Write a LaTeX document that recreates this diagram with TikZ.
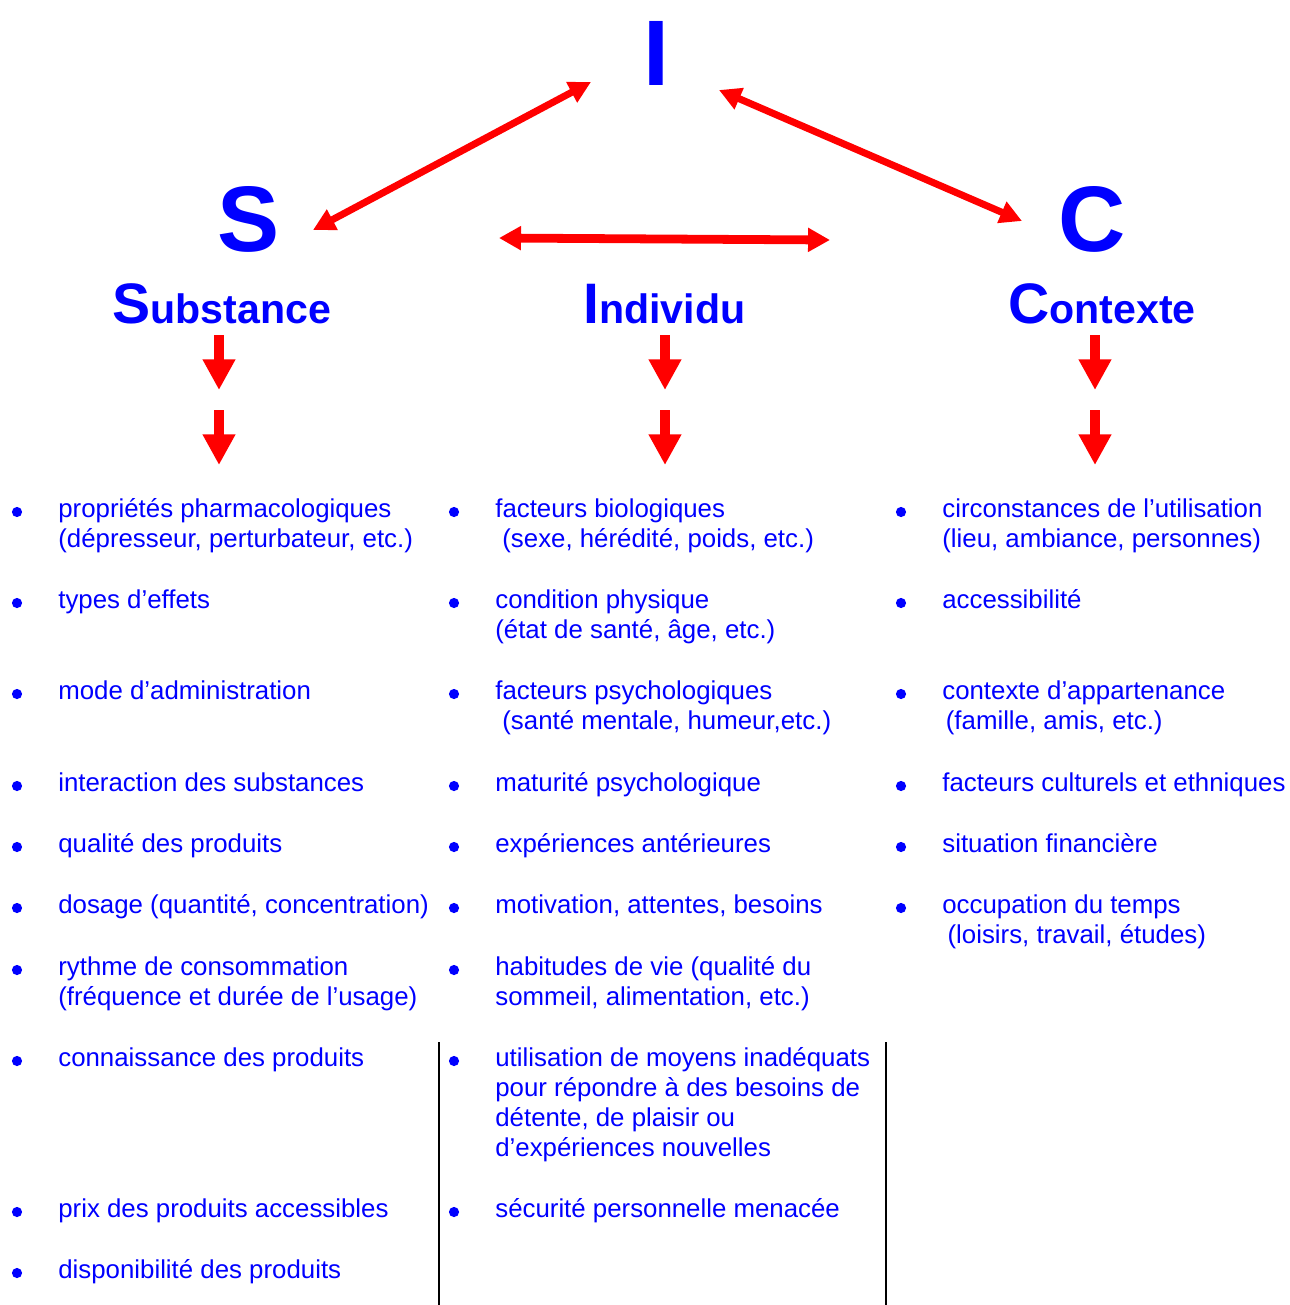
\documentclass[tikz,border=0pt]{standalone}
\usepackage{fontspec}
\setmainfont{Liberation Sans}
\usetikzlibrary{arrows.meta}

\tikzset{
    grande/.style={text=blue, font=\fontsize{53}{53}\selectfont\bfseries, inner sep=0pt, anchor=base},
    titre/.style={text=blue, font=\fontsize{23.4}{24}\selectfont\bfseries, inner sep=0pt, anchor=base west},
    texte/.style={text=blue, font=\fontsize{14.7}{17.07}\selectfont, inner sep=0pt, anchor=base west, align=left},
    lien/.style={draw=red, line width=4pt, {Triangle[length=12.5pt, width=12.5pt]}-{Triangle[length=12.5pt, width=12.5pt]}},
    lienlarge/.style={draw=red, line width=5pt, {Triangle[length=12.5pt, width=13pt]}-{Triangle[length=12.5pt, width=13pt]}},
    flechebas/.style={draw=red, line width=5.7pt, -{Triangle[length=17.5pt, width=17.6pt]}},
    puce/.style={fill=blue},
    separation/.style={draw=black, line width=1.1pt}
}
\newcommand{\initiale}[1]{{\fontsize{32.5}{33}\selectfont #1}}

\begin{document}
\begin{tikzpicture}[x=0.02cm, y=-0.02cm]
    \useasboundingbox (0,0) rectangle (1289,1305);

    % Les trois lettres
    \node[grande] (lettreI) at (656,85) {I};
    \node[grande] (lettreS) at (249,251) {S};
    \node[grande] (lettreC) at (1092,251) {C};

    % Fleches entre les lettres
    \coordinate (si-s) at (313,230);
    \coordinate (si-i) at (591,82);
    \coordinate (ic-i) at (719,90);
    \coordinate (ic-c) at (1022,221);
    \coordinate (sc-s) at (499,238);
    \coordinate (sc-c) at (830,240);
    \draw[lien] (si-s) -- (si-i);
    \draw[lien] (ic-i) -- (ic-c);
    \draw[lienlarge] (sc-s) -- (sc-c);

    % Titres
    \node[titre] (substance) at (112,323) {\initiale{S}ubstance};
    \node[titre] (individu) at (583,323) {\initiale{I}ndividu};
    \node[titre] (contexte) at (1008,323) {\initiale{C}ontexte};

    % Fleches vers le bas
    \coordinate (s-a) at (219,335);
    \coordinate (s-b) at (219,390);
    \coordinate (s-c) at (219,410);
    \coordinate (s-d) at (219,465);
    \coordinate (i-a) at (665,335);
    \coordinate (i-b) at (665,390);
    \coordinate (i-c) at (665,410);
    \coordinate (i-d) at (665,465);
    \coordinate (c-a) at (1095,335);
    \coordinate (c-b) at (1095,390);
    \coordinate (c-c) at (1095,410);
    \coordinate (c-d) at (1095,465);
    \draw[flechebas] (s-a) -- (s-b);
    \draw[flechebas] (s-c) -- (s-d);
    \draw[flechebas] (i-a) -- (i-b);
    \draw[flechebas] (i-c) -- (i-d);
    \draw[flechebas] (c-a) -- (c-b);
    \draw[flechebas] (c-c) -- (c-d);

    % Puces
    \foreach \y in {512,603,694,786,847,908,970,1061,1212,1273}
        \fill[puce] (17,\y) circle (2.9pt);
    \foreach \y in {512,603,694,786,847,908,970,1061,1212}
        \fill[puce] (454,\y) circle (2.9pt);
    \foreach \y in {512,603,694,786,847,908}
        \fill[puce] (901,\y) circle (2.9pt);

    % Substance (ancre sur la derniere ligne)
    \node[texte] (s1) at (58,547) {propriétés pharmacologiques\\(dépresseur, perturbateur, etc.)};
    \node[texte] (s2) at (58,608) {types d’effets};
    \node[texte] (s3) at (58,699) {mode d’administration};
    \node[texte] (s4) at (58,791) {interaction des substances};
    \node[texte] (s5) at (58,852) {qualité des produits};
    \node[texte] (s6) at (58,913) {dosage (quantité, concentration)};
    \node[texte] (s7) at (58,1005) {rythme de consommation\\(fréquence et durée de l’usage)};
    \node[texte] (s8) at (58,1066) {connaissance des produits};
    \node[texte] (s9) at (58,1217) {prix des produits accessibles};
    \node[texte] (s10) at (58,1278) {disponibilité des produits};

    % Individu
    \node[texte] (i1) at (495,547) {facteurs biologiques\\\hspace*{4pt}(sexe, hérédité, poids, etc.)};
    \node[texte] (i2) at (495,638) {condition physique\\(état de santé, âge, etc.)};
    \node[texte] (i3) at (495,729) {facteurs psychologiques\\\hspace*{4pt}(santé mentale, humeur,etc.)};
    \node[texte] (i4) at (495,791) {maturité psychologique};
    \node[texte] (i5) at (495,852) {expériences antérieures};
    \node[texte] (i6) at (495,913) {motivation, attentes, besoins};
    \node[texte] (i7) at (495,1005) {habitudes de vie (qualité du\\sommeil, alimentation, etc.)};
    \node[texte] (i8) at (495,1156) {utilisation de moyens inadéquats\\pour répondre à des besoins de\\détente, de plaisir ou\\d’expériences nouvelles};
    \node[texte] (i9) at (495,1217) {sécurité personnelle menacée};

    % Contexte
    \node[texte] (c1) at (942,547) {circonstances de l’utilisation\\(lieu, ambiance, personnes)};
    \node[texte] (c2) at (942,608) {accessibilité};
    \node[texte] (c3) at (942,729) {contexte d’appartenance\\\hspace*{2pt}(famille, amis, etc.)};
    \node[texte] (c4) at (942,791) {facteurs culturels et ethniques};
    \node[texte] (c5) at (942,852) {situation financière};
    \node[texte] (c6) at (942,943) {occupation du temps\\\hspace*{3pt}(loisirs, travail, études)};

    % Traits verticaux
    \coordinate (trait1-h) at (439,1042);
    \coordinate (trait1-b) at (439,1305);
    \coordinate (trait2-h) at (886,1042);
    \coordinate (trait2-b) at (886,1305);
    \draw[separation] (trait1-h) -- (trait1-b);
    \draw[separation] (trait2-h) -- (trait2-b);
\end{tikzpicture}
\end{document}
